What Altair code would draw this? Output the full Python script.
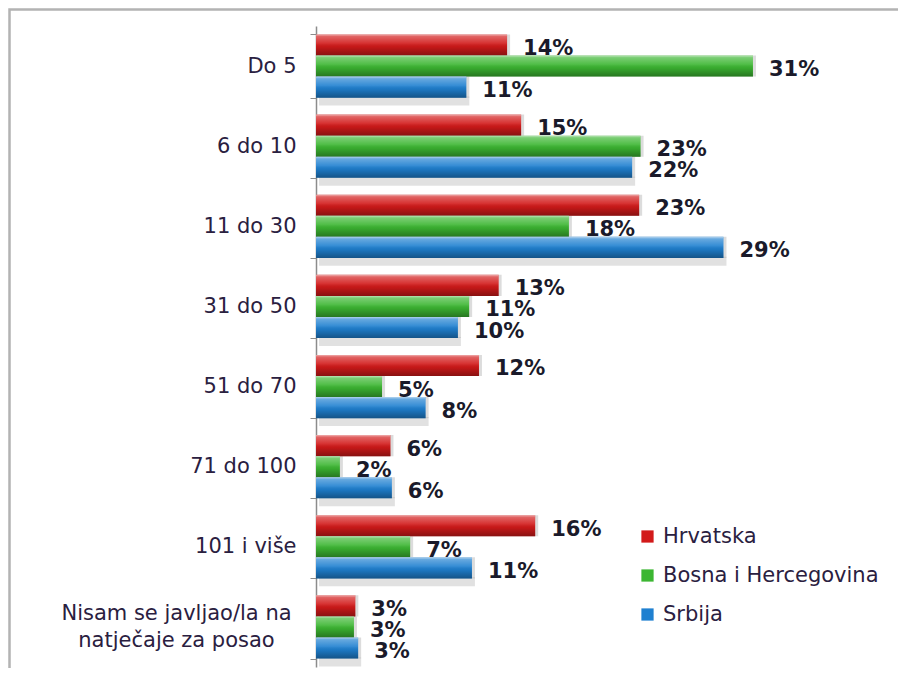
import altair as alt
import pandas as pd

categories = ["Do 5", "6 do 10", "11 do 30", "31 do 50", "51 do 70", "71 do 100",
              "101 i više", "Nisam se javljao/la na natječaje za posao"]
series = ["Hrvatska", "Bosna i Hercegovina", "Srbija"]
colors = ["#d21a1a", "#3cb632", "#1f80d0"]

# bar lengths (percent)
hr_values = [13.6, 14.6, 23.0, 13.0, 11.6, 5.3, 15.6, 2.8]
bih_values = [31.1, 23.1, 18.0, 10.9, 4.7, 1.7, 6.7, 2.7]
srb_values = [10.7, 22.5, 29.0, 10.1, 7.8, 5.4, 11.1, 3.0]
# printed labels
hr_labels = [14, 15, 23, 13, 12, 6, 16, 3]
bih_labels = [31, 23, 18, 11, 5, 2, 7, 3]
srb_labels = [11, 22, 29, 10, 8, 6, 11, 3]

rows = []
for s, vals, labs in zip(series, [hr_values, bih_values, srb_values],
                         [hr_labels, bih_labels, srb_labels]):
    for c, v, l in zip(categories, vals, labs):
        rows.append({"category": c, "series": s, "value": v, "label": f"{l}%"})
df = pd.DataFrame(rows)

long_cat = categories[-1]
test = f"datum.value == '{long_cat}'"

y_axis = alt.Axis(
    title=None,
    labelExpr=f"{test} ? ['Nisam se javljao/la na', 'natječaje za posao'] : datum.value",
    labelAlign=alt.condition(test, alt.value("center"), alt.value("right")),
    labelPadding=alt.condition(test, alt.value(134), alt.value(14)),
    labelOffset=alt.condition(test, alt.value(-13), alt.value(0)),
    labelFont="DejaVu Sans",
    labelFontSize=21,
    labelColor="#2a2040",
    labelLimit=500,
    labelLineHeight=27,
    tickBand="extent",
    tickSize=6,
    tickColor="#8c8c8c",
    domainColor="#8c8c8c",
    domainWidth=1.5,
    grid=False,
)

y_enc = alt.Y("category:N", sort=categories,
              scale=alt.Scale(paddingInner=0.21, paddingOuter=0.105), axis=y_axis)
x_enc = alt.X("value:Q", scale=alt.Scale(domain=[0, 40]), axis=None)

base = alt.Chart(df).encode(
    y=y_enc,
    yOffset=alt.YOffset("series:N", sort=series),
    x=x_enc,
)

shadow_side = base.mark_bar(color="#9a9a9a", opacity=0.35, xOffset=3)

shadow_bottom = alt.Chart(df).transform_filter(
    alt.datum.series == "Srbija"
).mark_bar(height=9, yOffset=35, xOffset=3, color="#a8a8a8", opacity=0.35).encode(
    y=y_enc, x=x_enc
)

bars = base.mark_bar().encode(
    color=alt.Color(
        "series:N", sort=series,
        scale=alt.Scale(domain=series, range=colors),
        legend=alt.Legend(
            title=None, orient="none", legendX=321, legendY=500, padding=0,
            symbolType="square", symbolSize=150, symbolStrokeWidth=0,
            labelFont="DejaVu Sans", labelFontSize=21, labelColor="#2a2040",
            labelOffset=5, rowPadding=17, labelLimit=400,
        ),
    )
)

gloss = base.mark_bar(fill={
    "gradient": "linear", "x1": 0, "x2": 0, "y1": 0, "y2": 1,
    "stops": [
        {"offset": 0, "color": "rgba(255,255,255,0.65)"},
        {"offset": 0.1, "color": "rgba(255,255,255,0.32)"},
        {"offset": 0.42, "color": "rgba(255,255,255,0.1)"},
        {"offset": 0.58, "color": "rgba(0,0,0,0.06)"},
        {"offset": 1, "color": "rgba(0,0,0,0.35)"},
    ],
})

text = base.mark_text(
    align="left", baseline="middle", dx=16, dy=4,
    font="DejaVu Sans", fontSize=21, fontWeight="bold", color="#1a1a2a",
).encode(text="label:N")

frame = alt.Chart(alt.Data(values=[{"f": 1}])).mark_rect(
    filled=False, stroke="#b3b3b3", strokeWidth=2.5
).encode(
    x=alt.value(-306.5), x2=alt.value(900), y=alt.value(-16.5), y2=alt.value(900)
)

chart = alt.layer(frame, shadow_side, shadow_bottom, bars, gloss, text).properties(
    width=562, height=641,
    padding={"left": 308, "top": 18, "right": 20, "bottom": 1},
    autosize=alt.AutoSizeParams(type="none"),
).configure_view(stroke=None)

chart.save("out.html", embed_options={"renderer": "svg", "actions": False})
